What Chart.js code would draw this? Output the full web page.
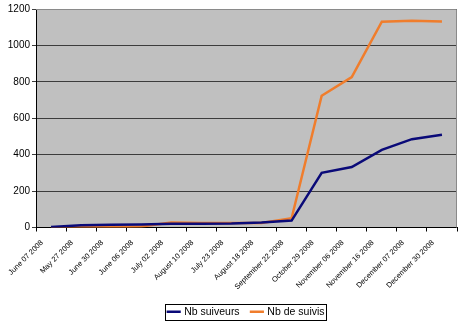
<!DOCTYPE html>
<html>
<head>
<meta charset="utf-8">
<script src="https://cdn.jsdelivr.net/npm/chart.js@4/dist/chart.umd.min.js"></script>
<style>
html,body{margin:0;padding:0;background:#fff;}
#wrap{width:460px;height:327px;position:relative;}
</style>
</head>
<body>
<div id="wrap"><canvas id="c" width="460" height="327"></canvas></div>
<script>
const categories = ["June 07 2008","May 27 2008","June 30 2008","June 06 2008","July 02 2008","August 10 2008","July 23 2008","August 18 2008","September 22 2008","October 29 2008","November 06 2008","November 16 2008","December 07 2008","December 30 2008"];
const nbSuiveurs = [3, 12, 15, 17, 20, 20, 22, 28, 38, 300, 332, 426, 485, 509];
const nbSuivis = [0, 2, 3, 5, 28, 25, 25, 25, 51, 724, 826, 1130, 1135, 1132];
const yTicks = [0, 200, 400, 600, 800, 1000, 1200];

const plotBg = {
  id: 'plotBg',
  beforeDraw(chart) {
    const {ctx, chartArea: a} = chart;
    ctx.save();
    ctx.fillStyle = '#c0c0c0';
    ctx.fillRect(a.left, a.top, a.right - a.left, a.bottom - a.top);
    ctx.restore();
  },
  afterDatasetsDraw(chart) {
    const {ctx, chartArea: a} = chart;
    ctx.save();
    ctx.strokeStyle = '#8a8a8a';
    ctx.lineWidth = 1;
    ctx.beginPath();
    ctx.moveTo(a.left, a.top + 0.5);
    ctx.lineTo(a.right - 0.5, a.top + 0.5);
    ctx.lineTo(a.right - 0.5, a.bottom);
    ctx.stroke();
    ctx.restore();
  },
  afterDraw(chart) {
    const lg = chart.legend;
    if (!lg || !lg.legendHitBoxes || !lg.legendHitBoxes.length) return;
    const boxes = lg.legendHitBoxes;
    let l = Infinity, r = -Infinity, t = Infinity, b = -Infinity;
    boxes.forEach(h => { l = Math.min(l, h.left); r = Math.max(r, h.left + h.width); t = Math.min(t, h.top); b = Math.max(b, h.top + h.height); });
    const ctx = chart.ctx;
    ctx.save();
    ctx.strokeStyle = '#000';
    ctx.lineWidth = 1;
    ctx.strokeRect(Math.round(l - 3) + 0.5, Math.round(t - 3) + 0.5, Math.round(r - l + 5), Math.round(b - t + 5));
    ctx.restore();
  }
};

new Chart(document.getElementById('c'), {
  type: 'line',
  data: {
    labels: categories,
    datasets: [
      { label: 'Nb suiveurs', data: nbSuiveurs, borderColor: '#0a0a78', backgroundColor: '#0a0a78', borderWidth: 2.5, pointRadius: 0, tension: 0 },
      { label: 'Nb de suivis', data: nbSuivis, borderColor: '#f07d2c', backgroundColor: '#f07d2c', borderWidth: 2.5, pointRadius: 0, tension: 0 }
    ]
  },
  options: {
    responsive: false,
    animation: false,
    devicePixelRatio: 1,
    layout: { padding: { top: 9, right: 3, left: 0, bottom: 0 } },
    plugins: {
      tooltip: { enabled: false },
      legend: {
        position: 'bottom',
        fullSize: false,
        labels: {
          usePointStyle: true,
          pointStyle: 'line',
          boxWidth: 16,
          boxHeight: 10,
          padding: 12,
          color: '#000',
          font: { family: 'Liberation Sans, Arial, sans-serif', size: 10.5 }
        }
      }
    },
    scales: {
      x: {
        type: 'category',
        offset: true,
        grid: { offset: true, drawOnChartArea: false, drawTicks: true, tickLength: 4, color: '#000' },
        border: { color: '#000', width: 1 },
        ticks: {
          minRotation: 45, maxRotation: 45, autoSkip: false, padding: 7, labelOffset: -9,
          color: '#000',
          font: { family: 'Liberation Sans, Arial, sans-serif', size: 7.5 }
        },
        afterFit(s) { s.height = 67; }
      },
      y: {
        min: 0, max: 1200,
        afterBuildTicks(s) { s.ticks = yTicks.map(v => ({ value: v })); },
        grid: { color: '#3c3c3c', lineWidth: 1, drawTicks: true, tickLength: 4 },
        border: { color: '#000', width: 1 },
        ticks: {
          padding: 2,
          color: '#000',
          font: { family: 'Liberation Sans, Arial, sans-serif', size: 10 },
          callback: (v) => String(v)
        },
        afterFit(s) { s.width = 36; }
      }
    }
  },
  plugins: [plotBg]
});
</script>
</body>
</html>
